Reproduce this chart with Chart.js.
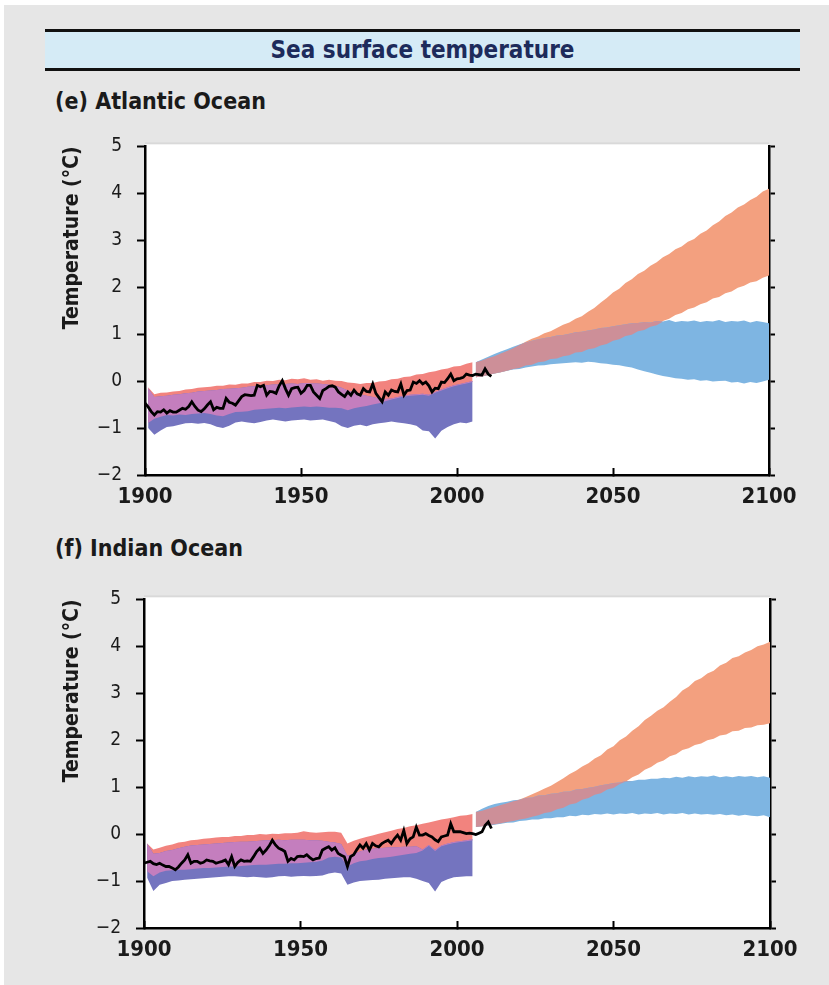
<!DOCTYPE html>
<html>
<head>
<meta charset="utf-8">
<script src="https://cdn.jsdelivr.net/npm/chart.js@4.4.1/dist/chart.umd.min.js"></script>
<style>
  html, body { margin: 0; padding: 0; background: #ffffff; }
  body { width: 829px; height: 985px; position: relative; overflow: hidden;
         font-family: 'DejaVu Sans Condensed', 'DejaVu Sans', sans-serif; }
  #bg { position: absolute; left: 4px; top: 5px; width: 825px; height: 980px; background: #e6e6e6; }
  #band { position: absolute; left: 45px; top: 29px; width: 755px; height: 36px;
          border-top: 3px solid #111; border-bottom: 3px solid #111; background: #d5ebf6;
          text-align: center; line-height: 36px; font-size: 24px; font-weight: bold; color: #1d2b5b; }
  .lbl { position: absolute; left: 55px; height: 30px; line-height: 30px; font-size: 23px; font-weight: bold; color: #1a1a1a; }
  canvas { position: absolute; left: 0; }
</style>
</head>
<body>
<div id="bg"></div>
<div id="band">Sea surface temperature</div>
<div class="lbl" style="top:86px">(e) Atlantic Ocean</div>
<canvas id="c1" width="829" height="400" style="top:120px"></canvas>
<div class="lbl" style="top:533px">(f) Indian Ocean</div>
<canvas id="c2" width="829" height="400" style="top:573px"></canvas>
<script>
// ---------- tick labels ----------
const xTickValues = [1900, 1950, 2000, 2050, 2100];
const xTickLabels = ['1900', '1950', '2000', '2050', '2100'];
const yTickValues = [-2, -1, 0, 1, 2, 3, 4, 5];
const yTickLabels = ['\u22122', '\u22121', '0', '1', '2', '3', '4', '5'];
const yAxisTitle = 'Temperature (\u00B0C)';

// ---------- years ----------
const obsStartYear = 1900;          // observed series is annual from 1900
const histStartYear = 1901;         // historical model ranges, every 2 years to 2005
const futStartYear = 2006;          // projections, every 2 years to 2100
const bandStep = 2;

// ---------- (e) Atlantic Ocean ----------
const atlObserved = [
  -0.47,-0.55,-0.65,-0.72,-0.65,-0.66,-0.61,-0.68,-0.63,-0.66,
  -0.66,-0.62,-0.58,-0.60,-0.54,-0.44,-0.54,-0.62,-0.65,-0.59,
  -0.51,-0.44,-0.61,-0.56,-0.58,-0.58,-0.37,-0.45,-0.47,-0.51,
  -0.42,-0.33,-0.29,-0.30,-0.31,-0.30,-0.09,-0.12,-0.09,-0.30,
  -0.22,-0.23,-0.26,-0.10,0.01,-0.16,-0.30,-0.16,-0.14,-0.13,
  -0.26,-0.20,-0.09,-0.09,-0.23,-0.30,-0.37,-0.20,-0.16,-0.11,
  -0.10,-0.13,-0.23,-0.28,-0.33,-0.23,-0.30,-0.19,-0.27,-0.30,
  -0.16,-0.22,-0.23,-0.06,-0.26,-0.35,-0.44,-0.23,-0.30,-0.19,
  -0.22,-0.23,-0.06,-0.30,-0.20,-0.19,-0.02,-0.05,0.01,-0.06,
  -0.02,-0.10,-0.23,-0.15,-0.16,-0.02,-0.03,0.05,0.15,0.01,
  0.05,0.06,0.08,0.15,0.13,0.12,0.15,0.14,0.13,0.26,
  0.15,0.10
];
const atlHistHighUpper = [
  -0.13,-0.28,-0.25,-0.24,-0.22, -0.21,-0.18,-0.17,-0.14,-0.13,
  -0.12,-0.10,-0.10,-0.07,-0.08, -0.05,-0.05,-0.02,-0.02,0.01,
  0.00,0.03,0.02,0.05,0.04, 0.06,0.03,0.04,0.01,0.03,
  0.01,0.00,-0.03,-0.04,-0.06, -0.04,-0.04,-0.01,0.00,0.04,
  0.05,0.09,0.10,0.14,0.15, 0.19,0.21,0.25,0.27,0.31,
  0.32,0.37,0.40
];
const atlHistHighLower = [
  -0.89,-0.80,-0.76,-0.72,-0.73, -0.71,-0.72,-0.70,-0.69,-0.68,
  -0.70,-0.73,-0.75,-0.70,-0.66, -0.65,-0.64,-0.61,-0.60,-0.59,
  -0.58,-0.57,-0.58,-0.56,-0.55, -0.54,-0.55,-0.54,-0.55,-0.57,
  -0.57,-0.58,-0.62,-0.58,-0.55, -0.53,-0.50,-0.47,-0.43,-0.39,
  -0.36,-0.33,-0.31,-0.30,-0.29, -0.31,-0.25,-0.20,-0.15,-0.11,
  -0.08,-0.05,-0.02
];
const atlHistLowUpper = [
  -0.15,-0.34,-0.32,-0.31,-0.29, -0.28,-0.26,-0.25,-0.22,-0.21,
  -0.20,-0.19,-0.17,-0.16,-0.15, -0.14,-0.12,-0.11,-0.09,-0.09,
  -0.07,-0.07,-0.06,-0.05,-0.06, -0.04,-0.05,-0.05,-0.06,-0.08,
  -0.10,-0.14,-0.20,-0.24,-0.28, -0.31,-0.34,-0.37,-0.38,-0.37,
  -0.34,-0.31,-0.29,-0.28,-0.27, -0.29,-0.23,-0.18,-0.13,-0.09,
  -0.06,-0.03,0.00
];
const atlHistLowLower = [
  -1.00,-1.14,-1.05,-0.98,-0.96, -0.93,-0.90,-0.89,-0.91,-0.89,
  -0.92,-0.97,-1.00,-0.95,-0.88, -0.86,-0.88,-0.90,-0.87,-0.84,
  -0.82,-0.84,-0.86,-0.84,-0.83, -0.82,-0.84,-0.83,-0.82,-0.85,
  -0.88,-0.96,-1.00,-0.95,-0.93, -0.96,-0.92,-0.90,-0.88,-0.86,
  -0.88,-0.90,-0.92,-0.95,-1.05, -1.07,-1.22,-1.06,-0.98,-0.92,
  -0.88,-0.90,-0.86
];
const atlHighUpper = [
  0.40,0.44,0.49,0.53,0.59, 0.64,0.70,0.77,0.84,0.90,
  0.95,1.02,1.06,1.13,1.20, 1.25,1.33,1.38,1.48,1.56,
  1.67,1.77,1.89,1.97,2.09, 2.17,2.28,2.35,2.46,2.53,
  2.64,2.71,2.81,2.87,2.97, 3.03,3.14,3.21,3.32,3.40,
  3.52,3.59,3.70,3.76,3.86, 3.93,4.04,4.10
];
const atlHighLower = [
  0.08,0.10,0.13,0.16,0.19, 0.22,0.26,0.28,0.33,0.35,
  0.40,0.42,0.47,0.48,0.53, 0.55,0.61,0.62,0.68,0.70,
  0.76,0.79,0.86,0.89,0.96, 0.99,1.06,1.09,1.16,1.19,
  1.28,1.33,1.41,1.45,1.53, 1.57,1.64,1.68,1.76,1.79,
  1.87,1.91,1.99,2.03,2.10, 2.13,2.20,2.25
];
const atlLowUpper = [
  0.40,0.46,0.52,0.58,0.63, 0.68,0.73,0.78,0.82,0.86,
  0.89,0.92,0.94,0.97,0.98, 1.01,1.04,1.05,1.08,1.10,
  1.13,1.14,1.17,1.19,1.21, 1.23,1.24,1.26,1.25,1.28,
  1.27,1.30,1.26,1.28,1.27, 1.29,1.26,1.28,1.27,1.30,
  1.26,1.28,1.27,1.29,1.25, 1.28,1.26,1.23
];
const atlLowLower = [
  0.08,0.10,0.13,0.16,0.19, 0.22,0.25,0.26,0.29,0.31,
  0.33,0.34,0.36,0.37,0.38, 0.39,0.40,0.39,0.41,0.40,
  0.38,0.37,0.35,0.34,0.31, 0.29,0.25,0.21,0.18,0.14,
  0.11,0.09,0.06,0.05,0.03, 0.04,0.01,0.02,-0.01,0.00,
  0.01,-0.03,-0.02,-0.05,-0.02, -0.04,-0.01,0.03
];

// ---------- (f) Indian Ocean ----------
const indObserved = [
  -0.62,-0.60,-0.58,-0.63,-0.65,-0.62,-0.66,-0.69,-0.69,-0.72,
  -0.76,-0.70,-0.62,-0.55,-0.44,-0.62,-0.58,-0.58,-0.62,-0.60,
  -0.55,-0.57,-0.58,-0.62,-0.60,-0.58,-0.55,-0.65,-0.48,-0.69,
  -0.60,-0.55,-0.58,-0.57,-0.58,-0.48,-0.37,-0.30,-0.41,-0.34,
  -0.25,-0.13,-0.23,-0.30,-0.33,-0.37,-0.58,-0.52,-0.55,-0.48,
  -0.47,-0.48,-0.44,-0.50,-0.55,-0.52,-0.51,-0.34,-0.30,-0.27,
  -0.34,-0.29,-0.41,-0.45,-0.48,-0.69,-0.48,-0.44,-0.33,-0.23,
  -0.30,-0.20,-0.34,-0.20,-0.25,-0.27,-0.20,-0.16,-0.13,-0.20,
  -0.10,-0.02,-0.13,0.08,-0.20,-0.10,-0.06,0.15,-0.02,-0.02,
  0.01,-0.03,-0.06,-0.12,-0.16,-0.06,-0.04,-0.02,0.22,0.05,
  0.05,0.05,0.03,0.01,0.02,0.01,-0.01,0.02,0.05,0.19,
  0.26,0.12
];
const indHistHighUpper = [
  -0.20,-0.33,-0.29,-0.25,-0.22, -0.18,-0.16,-0.13,-0.12,-0.10,
  -0.09,-0.07,-0.06,-0.06,-0.04, -0.04,-0.02,-0.02,0.00,-0.01,
  0.01,0.00,0.02,0.02,0.03, 0.06,0.04,0.03,0.04,0.05,
  0.05,0.03,-0.20,-0.14,-0.10, -0.06,-0.03,0.01,0.04,0.07,
  0.11,0.13,0.17,0.19,0.22, 0.25,0.28,0.31,0.33,0.36,
  0.39,0.40,0.43
];
const indHistHighLower = [
  -0.79,-0.90,-0.82,-0.78,-0.77, -0.76,-0.76,-0.75,-0.73,-0.72,
  -0.72,-0.71,-0.70,-0.69,-0.69, -0.68,-0.67,-0.66,-0.65,-0.65,
  -0.64,-0.63,-0.63,-0.62,-0.62, -0.61,-0.60,-0.59,-0.56,-0.50,
  -0.48,-0.50,-0.69,-0.62,-0.58, -0.56,-0.53,-0.51,-0.50,-0.48,
  -0.46,-0.44,-0.42,-0.40,-0.35, -0.25,-0.36,-0.26,-0.22,-0.19,
  -0.17,-0.15,-0.13
];
const indHistLowUpper = [
  -0.20,-0.42,-0.40,-0.36,-0.34, -0.30,-0.27,-0.24,-0.23,-0.22,
  -0.21,-0.20,-0.19,-0.18,-0.17, -0.16,-0.16,-0.15,-0.14,-0.13,
  -0.13,-0.12,-0.13,-0.12,-0.12, -0.12,-0.13,-0.13,-0.14,-0.16,
  -0.18,-0.21,-0.46,-0.42,-0.37, -0.33,-0.31,-0.30,-0.29,-0.28,
  -0.28,-0.27,-0.27,-0.26,-0.33, -0.23,-0.34,-0.24,-0.20,-0.17,
  -0.15,-0.13,-0.11
];
const indHistLowLower = [
  -0.93,-1.21,-1.08,-1.04,-1.00, -0.99,-0.97,-0.96,-0.95,-0.94,
  -0.93,-0.92,-0.91,-0.90,-0.90, -0.91,-0.92,-0.91,-0.92,-0.93,
  -0.92,-0.90,-0.89,-0.91,-0.90, -0.89,-0.90,-0.89,-0.88,-0.84,
  -0.82,-0.84,-1.08,-1.03,-1.00, -0.99,-0.98,-0.97,-0.95,-0.94,
  -0.93,-0.92,-0.92,-0.95,-1.00, -1.04,-1.22,-1.02,-0.96,-0.92,
  -0.91,-0.90,-0.90
];
const indHighUpper = [
  0.47,0.50,0.54,0.58,0.62, 0.66,0.70,0.74,0.79,0.85,
  0.91,0.97,1.03,1.11,1.19, 1.28,1.35,1.44,1.51,1.61,
  1.68,1.80,1.87,2.00,2.08, 2.20,2.30,2.43,2.52,2.63,
  2.70,2.82,2.92,3.06,3.14, 3.26,3.32,3.42,3.48,3.59,
  3.65,3.75,3.79,3.87,3.92, 4.00,4.04,4.10
];
const indHighLower = [
  0.15,0.17,0.19,0.21,0.23, 0.26,0.28,0.31,0.33,0.37,
  0.40,0.45,0.47,0.53,0.56, 0.63,0.66,0.73,0.77,0.84,
  0.87,0.95,0.98,1.07,1.12, 1.21,1.27,1.37,1.43,1.52,
  1.57,1.66,1.70,1.79,1.83, 1.90,1.93,2.00,2.03,2.10,
  2.12,2.19,2.20,2.26,2.27, 2.32,2.33,2.36
];
const indLowUpper = [
  0.47,0.54,0.60,0.64,0.67, 0.69,0.72,0.73,0.77,0.78,
  0.82,0.83,0.86,0.87,0.90, 0.91,0.95,0.96,0.99,1.01,
  1.04,1.06,1.09,1.10,1.13, 1.13,1.16,1.16,1.18,1.18,
  1.20,1.19,1.22,1.20,1.23, 1.21,1.23,1.22,1.25,1.21,
  1.23,1.21,1.24,1.22,1.24, 1.21,1.23,1.20
];
const indLowLower = [
  0.15,0.17,0.18,0.20,0.22, 0.24,0.25,0.28,0.29,0.31,
  0.31,0.34,0.34,0.36,0.36, 0.39,0.38,0.41,0.40,0.43,
  0.42,0.44,0.42,0.44,0.43, 0.45,0.42,0.44,0.43,0.45,
  0.42,0.44,0.43,0.45,0.42, 0.44,0.42,0.43,0.41,0.43,
  0.40,0.42,0.39,0.41,0.39, 0.38,0.40,0.36
];

// ---------- colours ----------
const colHistHigh = '#F2837E';
const colHistLow = '#7474BF';
const colHistBoth = '#C47EBE';
const colFutHigh = '#F3A07F';
const colFutLow = '#7EB5E2';
const colFutBoth = '#CD8F98';

Chart.defaults.font.family = "'DejaVu Sans Condensed', 'DejaVu Sans', sans-serif";
Chart.defaults.color = '#1a1a1a';

function series(startYear, step, values) {
  return values.map((v, i) => ({ x: startYear + i * step, y: v }));
}
function overlap(u1, l1, u2, l2) {
  const up = u1.map((v, i) => Math.min(v, u2[i]));
  const lo = l1.map((v, i) => Math.min(Math.max(v, l2[i]), up[i]));
  return [up, lo];
}
function band(startYear, upper, lower, color, order) {
  return [
    { data: series(startYear, bandStep, upper), fill: '+1', backgroundColor: color,
      borderWidth: 0, pointRadius: 0, order: order },
    { data: series(startYear, bandStep, lower), fill: false, backgroundColor: color,
      borderWidth: 0, pointRadius: 0, order: order }
  ];
}

const whiteArea = {
  id: 'whiteArea',
  beforeDraw(chart) {
    const a = chart.chartArea, ctx = chart.ctx;
    ctx.save();
    ctx.fillStyle = '#d9d9d9';
    ctx.fillRect(a.left, a.top - 4, a.right - a.left, 2);
    ctx.fillStyle = '#ffffff';
    ctx.fillRect(a.left, a.top - 2, a.right - a.left, a.bottom - a.top + 2);
    ctx.restore();
  }
};

function makeChart(id, obs, hHU, hHL, hLU, hLL, fHU, fHL, fLU, fLL, leftPx, rightPx) {
  const [hBU, hBL] = overlap(hHU, hHL, hLU, hLL);
  const [fBU, fBL] = overlap(fHU, fHL, fLU, fLL);
  const datasets = [].concat(
    band(histStartYear, hHU, hHL, colHistHigh, 20),
    band(histStartYear, hLU, hLL, colHistLow, 19),
    band(histStartYear, hBU, hBL, colHistBoth, 18),
    band(futStartYear, fHU, fHL, colFutHigh, 17),
    band(futStartYear, fLU, fLL, colFutLow, 16),
    band(futStartYear, fBU, fBL, colFutBoth, 15),
    [{ data: series(obsStartYear, 1, obs), borderColor: '#000000', borderWidth: 2.8,
       pointRadius: 0, fill: false, tension: 0, order: 0, borderJoinStyle: 'miter' }]
  );
  const W = 829, H = 400, top = 20, bottom = 355;
  return new Chart(document.getElementById(id), {
    type: 'line',
    data: { datasets },
    options: {
      responsive: false, animation: false, devicePixelRatio: 1,
      layout: { padding: { top: top, left: 0, right: 0, bottom: 0 } },
      plugins: { legend: { display: false }, tooltip: { enabled: false } },
      scales: {
        x: {
          type: 'linear', position: 'bottom', min: 1900, max: 2100,
          afterBuildTicks: s => { s.ticks = xTickValues.map(v => ({ value: v })); },
          afterFit: s => { s.height = H - bottom; },
          ticks: { callback: v => xTickLabels[xTickValues.indexOf(v)],
                   font: { size: 22, weight: 'bold' }, color: '#1a1a1a', padding: 16, maxRotation: 0 },
          grid: { drawOnChartArea: false, drawTicks: true, tickLength: -7, tickColor: '#000', tickWidth: 2 },
          border: { display: true, color: '#000', width: 2.5 }
        },
        y: {
          type: 'linear', position: 'left', min: -2, max: 5,
          afterBuildTicks: s => { s.ticks = yTickValues.map(v => ({ value: v })); },
          afterFit: s => { s.width = leftPx; },
          ticks: { callback: v => yTickLabels[yTickValues.indexOf(v)],
                   font: { size: 19 }, color: '#1a1a1a', padding: 15 },
          grid: { drawOnChartArea: false, drawTicks: true, tickLength: 8, tickColor: '#000', tickWidth: 2 },
          border: { display: true, color: '#000', width: 2.5 },
          title: { display: true, text: yAxisTitle, align: 'end', color: '#1a1a1a',
                   font: { size: 21, weight: 'bold' }, padding: { top: 60, bottom: 0 } }
        },
        y2: {
          type: 'linear', position: 'right', min: -2, max: 5,
          afterBuildTicks: s => { s.ticks = yTickValues.map(v => ({ value: v })); },
          afterFit: s => { s.width = W - rightPx; },
          ticks: { display: false },
          grid: { drawOnChartArea: false, drawTicks: true, tickLength: 6, tickColor: '#000', tickWidth: 2 },
          border: { display: true, color: '#000', width: 2.5 }
        }
      }
    },
    plugins: [whiteArea]
  });
}

makeChart('c1', atlObserved, atlHistHighUpper, atlHistHighLower, atlHistLowUpper, atlHistLowLower,
          atlHighUpper, atlHighLower, atlLowUpper, atlLowLower, 145, 769);
makeChart('c2', indObserved, indHistHighUpper, indHistHighLower, indHistLowUpper, indHistLowLower,
          indHighUpper, indHighLower, indLowUpper, indLowLower, 144, 770);
</script>
</body>
</html>
